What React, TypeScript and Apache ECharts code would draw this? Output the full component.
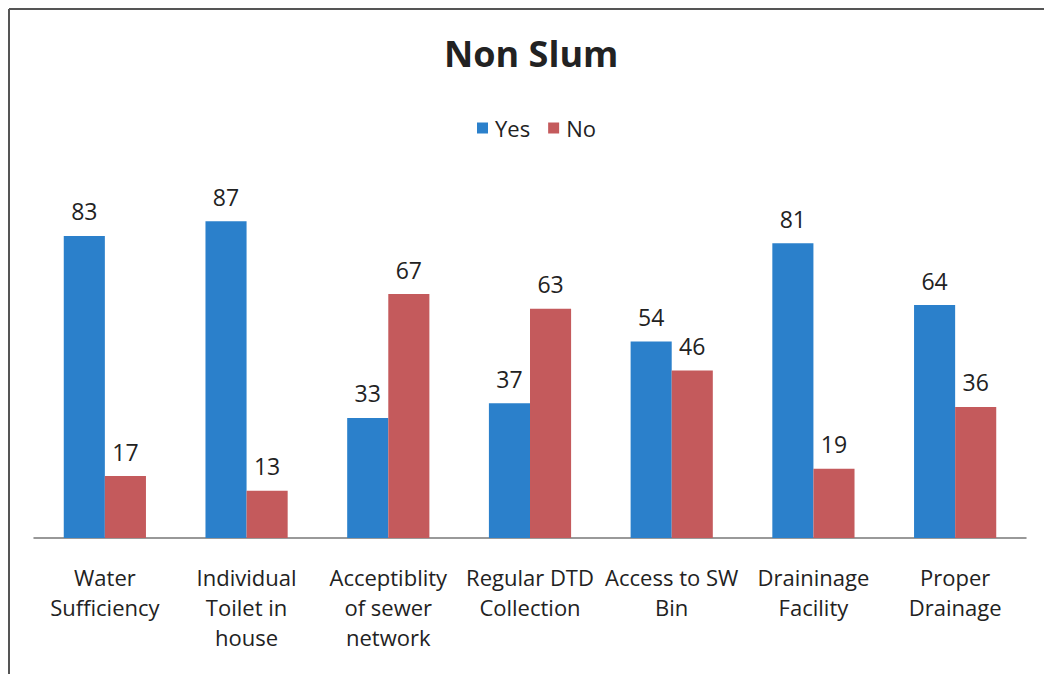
import React, { useEffect, useRef } from "react";
import * as echarts from "echarts";

const categories = [
  "Water\nSufficiency",
  "Individual\nToilet in\nhouse",
  "Acceptiblity\nof sewer\nnetwork",
  "Regular DTD\nCollection",
  "Access to SW\nBin",
  "Draininage\nFacility",
  "Proper\nDrainage",
];
const yesValues = [83, 87, 33, 37, 54, 81, 64];
const noValues = [17, 13, 67, 63, 46, 19, 36];
const titleText = "Non Slum";
const seriesNames = ["Yes", "No"];

const FONT = "'Open Sans', sans-serif";
const BLUE = "#2B80CB";
const RED = "#C45A5C";

export default function App() {
  const ref = useRef<HTMLDivElement>(null);
  useEffect(() => {
    document.body.style.margin = "0";
    const chart = echarts.init(ref.current!, null, { renderer: "svg" });
    const labelStyle = {
      show: true,
      position: "top" as const,
      distance: 13,
      color: "#222",
      fontFamily: FONT,
      fontSize: 23,
    };
    chart.setOption({
      animation: false,
      backgroundColor: "#ffffff",
      title: {
        text: titleText,
        left: 439,
        top: 30,
        textStyle: { fontFamily: FONT, fontSize: 36, fontWeight: "bold", color: "#222" },
      },
      legend: {
        top: 112,
        left: 472,
        itemWidth: 11,
        itemHeight: 11,
        itemGap: 18,
        icon: "rect",
        textStyle: { fontFamily: FONT, fontSize: 22, color: "#222", padding: [0, 0, 0, 2] },
        data: seriesNames,
      },
      grid: { left: 34, right: 18, top: 174, bottom: 136 },
      xAxis: {
        type: "category",
        data: categories,
        axisLine: { lineStyle: { color: "#777", width: 1.5 } },
        axisTick: { show: false },
        axisLabel: {
          interval: 0,
          margin: 24,
          fontFamily: FONT,
          fontSize: 22,
          lineHeight: 30,
          color: "#222",
        },
      },
      yAxis: {
        type: "value",
        min: 0,
        max: 100,
        show: false,
      },
      series: [
        {
          name: seriesNames[0],
          type: "bar",
          data: yesValues,
          barGap: "0%",
          barCategoryGap: "42%",
          itemStyle: { color: BLUE },
          label: labelStyle,
        },
        {
          name: seriesNames[1],
          type: "bar",
          data: noValues,
          itemStyle: { color: RED },
          label: labelStyle,
        },
      ],
      graphic: [
        { type: "line", shape: { x1: 9, y1: 9, x2: 9, y2: 674 }, style: { stroke: "#555", lineWidth: 2 } },
        { type: "line", shape: { x1: 9, y1: 9, x2: 1044, y2: 9 }, style: { stroke: "#555", lineWidth: 2 } },
      ],
    });
    return () => chart.dispose();
  }, []);
  return <div ref={ref} style={{ width: 1044, height: 674 }} />;
}
